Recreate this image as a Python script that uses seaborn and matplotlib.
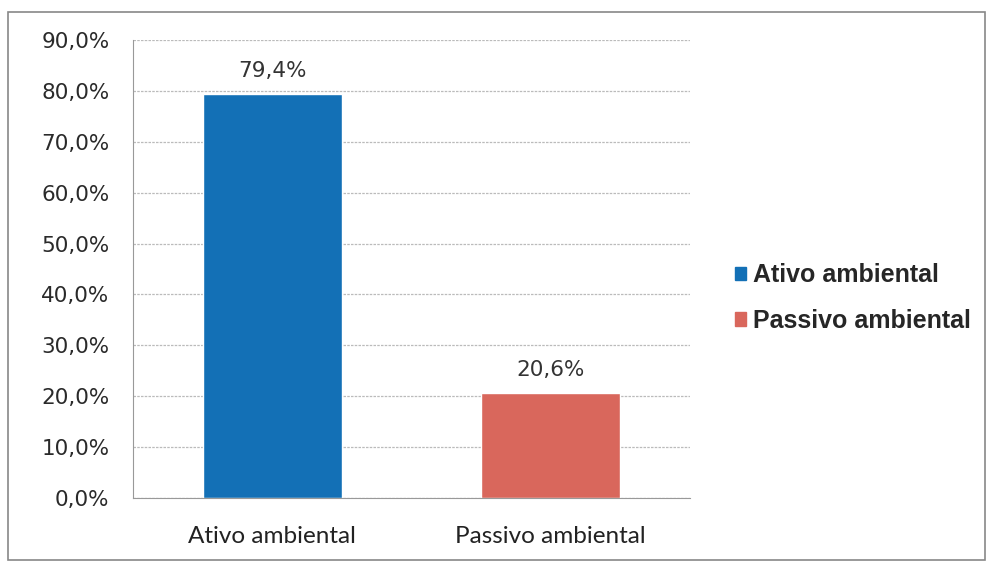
import matplotlib
matplotlib.use("Agg")
import matplotlib.pyplot as plt
import seaborn as sns
import pandas as pd
from matplotlib.patches import Rectangle

categories = ["Ativo ambiental", "Passivo ambiental"]
values = [79.4, 20.6]
value_labels = ["79,4%", "20,6%"]
yticks = [0, 10, 20, 30, 40, 50, 60, 70, 80, 90]
ytick_labels = ["0,0%", "10,0%", "20,0%", "30,0%", "40,0%", "50,0%", "60,0%", "70,0%", "80,0%", "90,0%"]
colors = ["#1370B6", "#D9675C"]

sns.set_style("white")
plt.rcParams['font.family'] = ['DejaVu Sans']

df = pd.DataFrame({"cat": categories, "val": values})

fig = plt.figure(figsize=(9.89, 5.68), dpi=100)
fig.patches.append(Rectangle((8/989, 1-560/568), 977/989, 548/568, transform=fig.transFigure,
                             fill=False, edgecolor="#888888", linewidth=1.2))
ax = fig.add_axes([133/989, 1-498/568, 557/989, 458/568])

sns.barplot(data=df, x="cat", y="val", hue="cat", palette=colors, width=0.5,
            dodge=False, legend=False, ax=ax, saturation=1)

ax.set_ylim(0, 90)
ax.set_yticks(yticks)
ax.set_yticklabels(ytick_labels, fontsize=15.5, color="#2a2a2a", family=["DejaVu Sans"])
ax.set_xticklabels(categories, fontsize=17.5, color="#222222", family=["Lato", "DejaVu Sans"])
ax.set_xlabel("")
ax.set_ylabel("")
ax.yaxis.grid(True, color="#bbbbbb", linestyle=(0, (2, 1)), linewidth=0.9)
ax.set_axisbelow(True)
for s in ["top", "right"]:
    ax.spines[s].set_visible(False)
ax.spines["left"].set_color("#999999")
ax.spines["bottom"].set_color("#999999")
ax.tick_params(axis="x", length=0, pad=20)
ax.tick_params(axis="y", length=4, color="#999999", pad=13)

for p, lab in zip(ax.patches, value_labels):
    ax.text(p.get_x() + p.get_width()/2, p.get_height() + 2.6, lab,
            ha="center", va="bottom", fontsize=15.5, color="#333333", family=["DejaVu Sans"])

handles = [Rectangle((0, 0), 1, 1, color=c) for c in colors]
fig.legend(handles, categories, loc="upper left", bbox_to_anchor=(712/989, 1-241/568),
           frameon=False, handlelength=0.45, handleheight=0.45,
           handletextpad=0.3, labelspacing=0.85,
           prop={"family": "Liberation Sans", "size": 18, "weight": "bold"})

fig.savefig("out.png", dpi=100)
